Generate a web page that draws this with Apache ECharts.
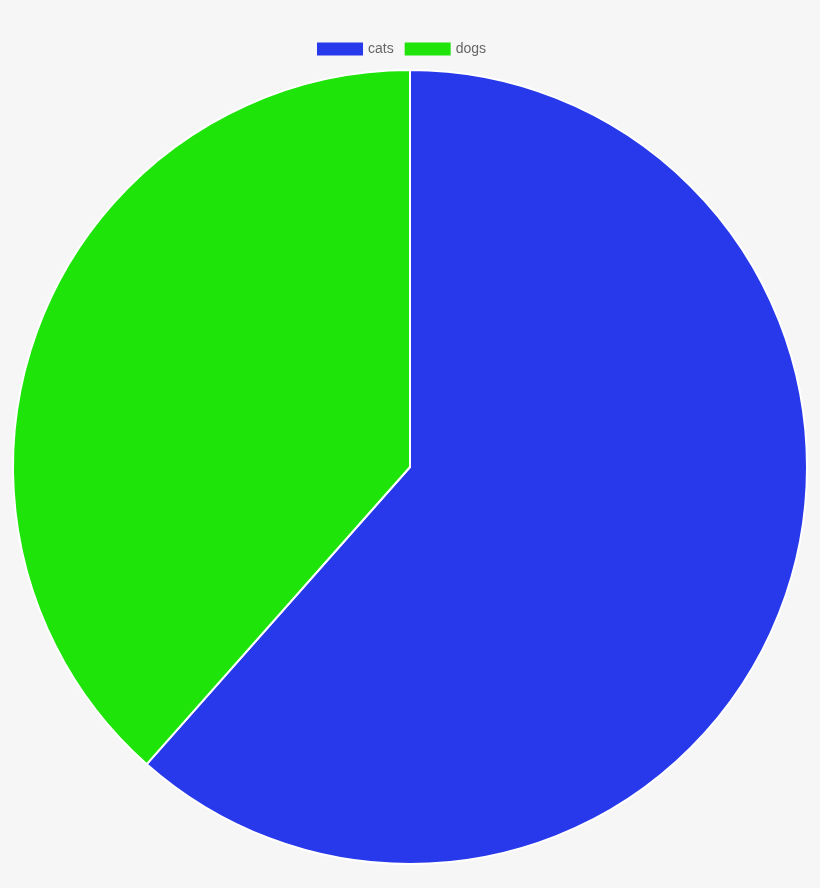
<!DOCTYPE html>
<html>
<head>
<meta charset="utf-8">
<script src="https://cdn.jsdelivr.net/npm/echarts@6/dist/echarts.min.js"></script>
<style>
  html, body { margin: 0; padding: 0; background: #f6f6f6; }
  #chart { width: 820px; height: 888px; }
</style>
</head>
<body>
<div id="chart"></div>
<script>
  // pie data
  const categories = ['cats', 'dogs'];
  const values = [8, 5];
  const colors = ['#2839eb', '#1ee40a'];

  const chart = echarts.init(document.getElementById('chart'), null, { renderer: 'canvas' });
  chart.setOption({
    backgroundColor: '#f6f6f6',
    animation: false,
    color: colors,
    legend: {
      data: categories,
      left: 317,
      top: 42,
      padding: 0,
      icon: 'rect',
      itemWidth: 46,
      itemHeight: 13,
      itemGap: 11,
      itemStyle: { borderWidth: 0 },
      textStyle: {
        color: '#666',
        fontSize: 14,
        fontFamily: 'Liberation Sans, Arial, sans-serif'
      }
    },
    series: [{
      type: 'pie',
      center: [410, 467],
      radius: 397,
      startAngle: 90,
      clockwise: true,
      label: { show: false },
      labelLine: { show: false },
      emphasis: { disabled: true },
      itemStyle: { borderColor: '#fff', borderWidth: 2 },
      data: categories.map((name, i) => ({ name: name, value: values[i] }))
    }]
  });
</script>
</body>
</html>
